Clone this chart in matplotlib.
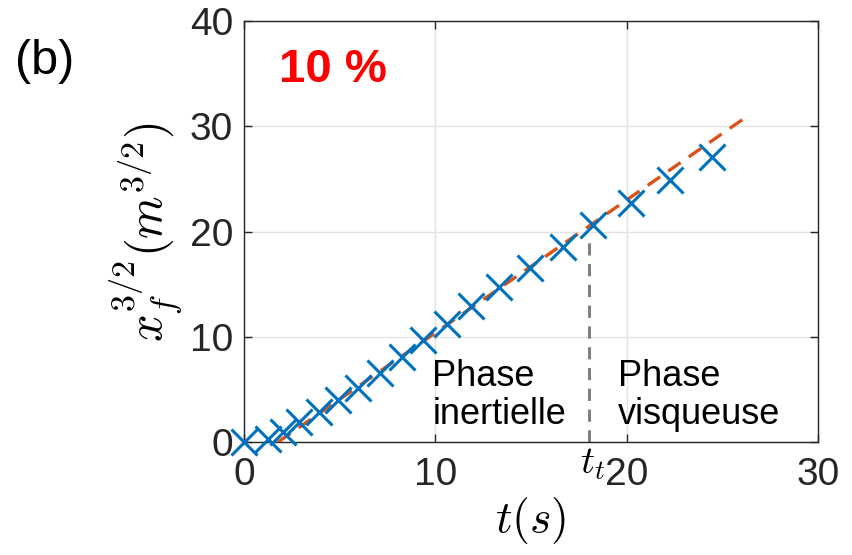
import matplotlib
matplotlib.use("Agg")
import matplotlib.pyplot as plt
import numpy as np

# data
t_data = [0.0, 1.27, 2.05, 2.89, 3.94, 4.93, 5.97, 7.11, 8.24, 9.37,
          10.6, 11.87, 13.35, 14.95, 16.66, 18.25, 20.23, 22.27, 24.45]
x_data = [0.0, 0.26, 0.98, 1.93, 2.88, 3.99, 5.10, 6.53, 8.05, 9.70,
          11.2, 12.9, 14.76, 16.57, 18.56, 20.6, 22.7, 24.85, 27.06]
fit_t = [1.78, 26.4]
fit_x = [0.0, 31.07]
t_t = 18.05
t_t_top = 19.0
xticks = [0, 10, 20, 30]
yticks = [0, 10, 20, 30, 40]

plt.rcParams['font.family'] = ['Liberation Sans', 'DejaVu Sans']
plt.rcParams['mathtext.fontset'] = 'cm'

fig = plt.figure(figsize=(8.53, 5.55), dpi=100)
ax = fig.add_axes([244/853, 1-442/555, (818-244)/853, (442-21)/555])

dark = '#262626'
ax.set_xlim(0, 30)
ax.set_ylim(0, 40)
ax.set_xticks(xticks)
ax.set_yticks(yticks)
ax.grid(True, color='#e3e3e3', linewidth=1.0)
ax.set_axisbelow(True)
for s in ax.spines.values():
    s.set_color(dark)
    s.set_linewidth(1.0)
ax.tick_params(direction='in', top=True, right=True, length=6, width=1.0,
               colors=dark, labelsize=28)
ax.tick_params(axis='x', pad=11)
ax.tick_params(axis='y', pad=8)
for lab in ax.get_xticklabels() + ax.get_yticklabels():
    lab.set_color(dark)

ax.plot(fit_t, fit_x, color='#D95319', linewidth=2.4, dashes=(4.5, 3.0), zorder=3)
ax.plot(t_data, x_data, linestyle='none', marker='x', markersize=19,
        markeredgewidth=2.2, color='#0072BD', zorder=4, clip_on=False)
ax.plot([t_t, t_t], [0, t_t_top], color='#808080', linewidth=2.2,
        dashes=(4.0, 2.8), zorder=2)

ax.text(4.65, 35.3, '10 %', color='#FF0000', fontsize=34, fontweight='bold',
        ha='center', va='center')
ax.text(9.85, 4.4, 'Phase\ninertielle', fontsize=26, ha='left', va='center',
        linespacing=1.1, color='black')
ax.text(19.55, 4.4, 'Phase\nvisqueuse', fontsize=26, ha='left', va='center',
        linespacing=1.1, color='black')
ax.text(t_t + 0.15, -0.4, '$t_t$', fontsize=28, ha='center', va='top')

ax.set_xlabel('$t(s)$', fontsize=33, labelpad=1)
ax.set_ylabel('$x_f^{3/2}(m^{3/2})$', fontsize=35, labelpad=4)

fig.text(45/853, 1-62/555, '(b)', fontsize=35, ha='center', va='center')

fig.savefig('out.png', dpi=100)
